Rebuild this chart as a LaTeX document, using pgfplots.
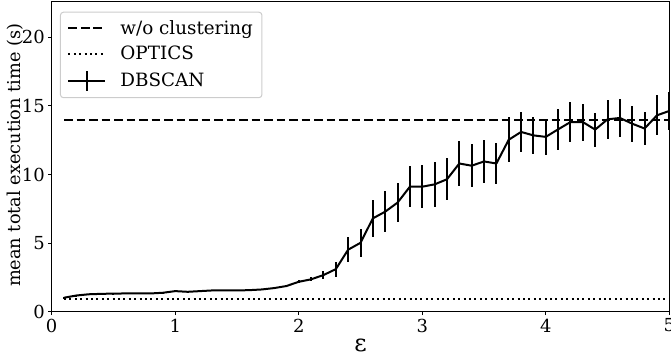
\documentclass[border=0pt]{standalone}
\usepackage{fontspec}
\setmainfont{DejaVu Serif}
\usepackage{pgfplots}
\usepackage{pgfplotstable}
\pgfplotsset{compat=1.18}
\pgfplotstableread{
x y e
0.1 1.02 0.03
0.2 1.18 0.03
0.3 1.27 0.03
0.4 1.30 0.03
0.5 1.32 0.03
0.6 1.33 0.03
0.7 1.33 0.03
0.8 1.33 0.03
0.9 1.38 0.04
1.0 1.50 0.04
1.1 1.45 0.04
1.2 1.50 0.04
1.3 1.55 0.04
1.4 1.55 0.04
1.5 1.55 0.04
1.6 1.57 0.05
1.7 1.62 0.05
1.8 1.72 0.06
1.9 1.87 0.08
2.0 2.18 0.10
2.1 2.36 0.15
2.2 2.67 0.30
2.3 3.10 0.55
2.4 4.52 0.92
2.5 5.02 1.02
2.6 6.80 1.36
2.7 7.29 1.50
2.8 7.95 1.43
2.9 9.11 1.50
3.0 9.11 1.58
3.1 9.28 1.64
3.2 9.65 1.54
3.3 10.80 1.64
3.4 10.64 1.58
3.5 10.95 1.54
3.6 10.80 1.48
3.7 12.53 1.65
3.8 13.10 1.45
3.9 12.85 1.34
4.0 12.74 1.32
4.1 13.29 1.47
4.2 13.82 1.43
4.3 13.82 1.35
4.4 13.27 1.24
4.5 14.02 1.44
4.6 14.12 1.38
4.7 13.70 1.30
4.8 13.35 1.20
4.9 14.31 1.45
5.0 14.63 1.40
}\dbscan
\begin{document}
\begin{tikzpicture}
\begin{axis}[
  at={(0,0)}, anchor=south west,
  scale only axis, width=617.6bp, height=309.7bp,
  xmin=0, xmax=5, ymin=0, ymax=22.57,
  xtick={0,1,2,3,4,5}, ytick={0,5,10,15,20},
  tick pos=left, tick align=outside, major tick length=3.5bp,
  tick style={black, line width=1bp},
  axis line style={black, line width=1bp},
  /pgf/number format/assume math mode=true,
  ticklabel style={font=\fontsize{18}{21}\selectfont},
  xlabel={ε}, ylabel={mean total execution time (s)},
  xlabel style={font=\fontsize{24}{28}\selectfont, at={(axis description cs:0.5,-0.1075)}, anchor=center},
  ylabel style={font=\fontsize{17.8}{21}\selectfont, at={(axis description cs:-0.060,0.505)}, anchor=center},
  legend style={at={(axis description cs:0.0134,0.9687)}, anchor=north west,
    draw=black!20, line width=1bp, rounded corners=3bp, fill=white, fill opacity=0.8, text opacity=1,
    font=\fontsize{18.4}{21}\selectfont, inner xsep=7bp, inner ysep=6bp, row sep=6.5bp,
    cells={anchor=west}},
  legend image code/.code={\draw[#1] (0bp,0bp) -- (37bp,0bp);},
  /tikz/every odd column/.style={column sep=12bp},
]
\addplot[black, line width=2bp, dash pattern=on 8.8bp off 3.7bp] coordinates {(0.1,13.97) (5.0,13.97)};
\addlegendentry{w/o clustering}
\addplot[black, line width=2bp, dash pattern=on 2bp off 3.4bp] coordinates {(0.1,0.96) (5.0,0.96)};
\addlegendentry{OPTICS}
\addplot[black, line width=2bp, line join=round,
  legend image code/.code={\draw[black, line width=2bp] (0bp,0bp) -- (37bp,0bp); \draw[black, line width=2bp] (18.5bp,-10bp) -- (18.5bp,10bp);},
  error bars/.cd, y dir=both, y explicit, error mark=none,
  error bar style={line width=2bp}]
  table[x=x, y=y, y error=e] {\dbscan};
\addlegendentry{DBSCAN}
\end{axis}
\pgfresetboundingbox
\useasboundingbox (-51.7bp,-50.3bp) rectangle (619.3bp,311.7bp);
\end{tikzpicture}
\end{document}
